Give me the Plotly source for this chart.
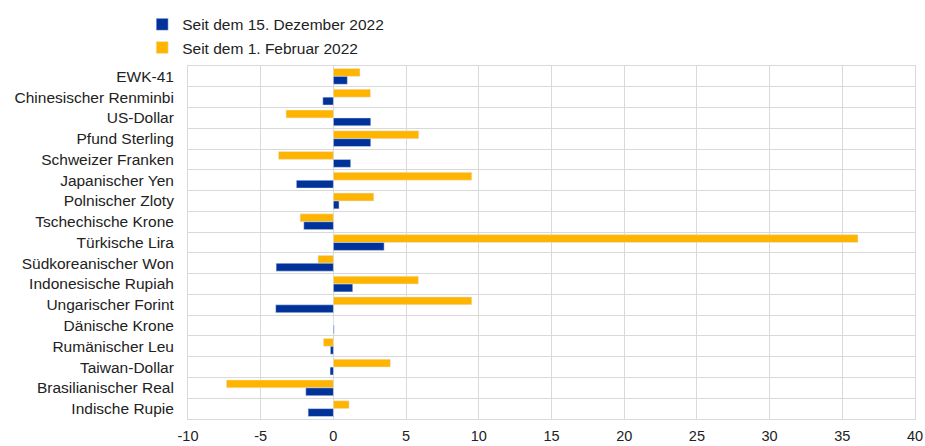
import plotly.graph_objects as go

categories = ["EWK-41", "Chinesischer Renminbi", "US-Dollar", "Pfund Sterling",
              "Schweizer Franken", "Japanischer Yen", "Polnischer Zloty",
              "Tschechische Krone", "Türkische Lira", "Südkoreanischer Won",
              "Indonesische Rupiah", "Ungarischer Forint", "Dänische Krone",
              "Rumänischer Leu", "Taiwan-Dollar", "Brasilianischer Real",
              "Indische Rupie"]
seit_dez_2022 = [0.96, -0.73, 2.57, 2.57, 1.19, -2.55, 0.39, -2.04, 3.49, -3.94,
                 1.33, -3.97, 0.05, -0.21, -0.23, -1.90, -1.74]
seit_feb_2022 = [1.83, 2.55, -3.26, 5.87, -3.78, 9.52, 2.78, -2.29, 36.08, -1.06,
                 5.85, 9.52, 0.02, -0.69, 3.92, -7.36, 1.08]
x_ticks = [-10, -5, 0, 5, 10, 15, 20, 25, 30, 35, 40]

BLUE = "#003299"
YELLOW = "#FFB400"
GRID = "#d9d9d9"
FONT = "Liberation Sans, Arial, sans-serif"

fig = go.Figure()
fig.add_trace(go.Bar(y=categories, x=seit_feb_2022, orientation="h",
                     name="Seit dem 1. Februar 2022", marker_color=YELLOW,
                     legendrank=2))
fig.add_trace(go.Bar(y=categories, x=seit_dez_2022, orientation="h",
                     name="Seit dem 15. Dezember 2022", marker_color=BLUE,
                     legendrank=1))

fig.update_layout(
    width=925, height=446,
    margin=dict(l=188, r=10, t=66, b=27, autoexpand=False),
    paper_bgcolor="white", plot_bgcolor="white",
    barmode="group", bargap=0.24, bargroupgap=0,
    font=dict(family=FONT, size=15.5, color="#222222"),
    showlegend=True,
    legend=dict(x=-0.063, y=1.165, xanchor="left", yanchor="top",
                font=dict(size=15.5), itemwidth=30, tracegroupgap=0,
                bgcolor="rgba(0,0,0,0)"),
)
fig.update_xaxes(range=[-10, 40], tickmode="array", tickvals=x_ticks,
                 ticktext=[str(v) for v in x_ticks], tickfont=dict(size=14.5),
                 showgrid=True, gridcolor=GRID, gridwidth=1,
                 zeroline=True, zerolinecolor=GRID, zerolinewidth=1,
                 showline=True, linecolor=GRID, mirror=True, ticks="",
                 ticklabelstandoff=4)
fig.update_yaxes(type="category", categoryorder="array", categoryarray=categories,
                 autorange="reversed", tickson="boundaries",
                 showgrid=True, gridcolor=GRID, gridwidth=1,
                 showline=True, linecolor=GRID, mirror=True, ticks="",
                 ticklabelstandoff=10)

fig.write_html("out.html",
               config={"displayModeBar": False},
               post_script="document.body.style.margin='0';"
                           "document.body.style.overflow='hidden';"
                           "document.documentElement.style.overflow='hidden';")
